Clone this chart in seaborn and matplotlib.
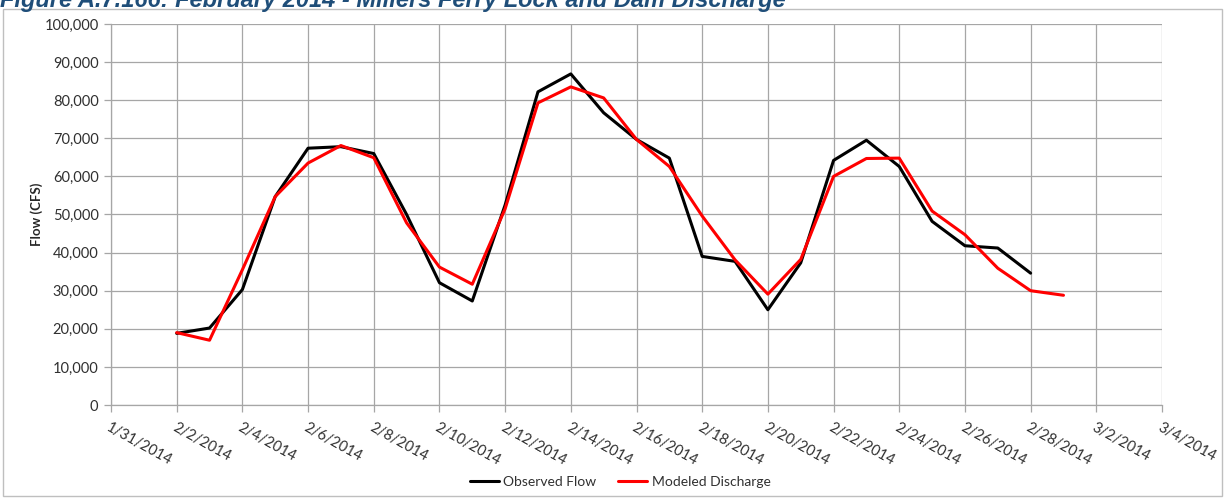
import matplotlib
matplotlib.use("Agg")
import matplotlib.pyplot as plt
from matplotlib.patches import Rectangle
from matplotlib.lines import Line2D
import seaborn as sns
import pandas as pd

# ---- data ----
obs_dates = pd.date_range("2014-02-02", "2014-02-28", freq="D")
observed_flow = [18800, 20200, 30300, 54700, 67400, 67800, 66000, 50000, 32100, 27300,
                 52500, 82200, 86900, 76700, 69700, 64800, 39000, 37700, 25000, 37300,
                 64200, 69500, 62600, 48200, 41800, 41200, 34600]
mod_dates = pd.date_range("2014-02-02", "2014-03-01", freq="D")
modeled_discharge = [19000, 17000, 35500, 54700, 63500, 68100, 64900, 47800, 36200, 31700,
                     51500, 79300, 83500, 80600, 69700, 62600, 49600, 38100, 29100, 38200,
                     60000, 64700, 64800, 50900, 44700, 35900, 30000, 28800]
series_names = ["Observed Flow", "Modeled Discharge"]
series_colors = ["#000000", "#FF0000"]
title_text = "Figure A.7.166: February 2014 - Millers Ferry Lock and Dam Discharge"
y_label = "Flow (CFS)"

df = pd.concat([
    pd.DataFrame({"date": obs_dates, "flow": observed_flow, "series": series_names[0]}),
    pd.DataFrame({"date": mod_dates, "flow": modeled_discharge, "series": series_names[1]}),
], ignore_index=True)

sns.set_theme(style="white")
plt.rcParams["font.family"] = ["Lato", "DejaVu Sans"]

W, H = 1225, 498
fig = plt.figure(figsize=(W / 100, H / 100), dpi=100)
L, R, T, B = 111, 1162, 24, 405
ax = fig.add_axes([L / W, 1 - B / H, (R - L) / W, (B - T) / H])

sns.lineplot(data=df, x="date", y="flow", hue="series", hue_order=series_names,
             palette=dict(zip(series_names, series_colors)), linewidth=2.2, ax=ax,
             legend=False)

start = pd.Timestamp("2014-01-31")
end = pd.Timestamp("2014-03-04")
ax.set_xlim(start, end)
ax.set_ylim(0, 100000)
ticks = pd.date_range(start, end, freq="2D")
ax.set_xticks(ticks)
ax.set_xticklabels([f"{d.month}/{d.day}/{d.year}" for d in ticks],
                   rotation=-29, ha="left", va="top", rotation_mode="anchor",
                   fontsize=10.5, color="#303030")
ax.set_yticks(range(0, 100001, 10000))
ax.set_yticklabels([f"{v:,}" for v in range(0, 100001, 10000)], fontsize=10.5, color="#303030")

gc = "#A6A6A6"
ax.grid(True, color=gc, linewidth=0.9)
ax.set_axisbelow(True)
for s in ["top", "right"]:
    ax.spines[s].set_visible(False)
for s in ["left", "bottom"]:
    ax.spines[s].set_color(gc)
    ax.spines[s].set_linewidth(0.9)
ax.tick_params(axis="both", which="major", length=5, width=0.9, color=gc,
               direction="out", bottom=True, left=True)
ax.tick_params(axis="y", pad=4)
ax.tick_params(axis="x", pad=6)
ax.set_xlabel("")
ax.set_ylabel(y_label, fontsize=9.5, fontweight="bold", color="#262626", labelpad=1)

# legend
handles = [Line2D([0], [0], color=c, lw=2.2) for c in series_colors]
fig.legend(handles, series_names, loc="center", bbox_to_anchor=(620 / W, 1 - 482 / H),
           ncol=2, frameon=False, fontsize=10, handlelength=2.1, handletextpad=0.3,
           columnspacing=1.6, labelcolor="#303030")

# chart area border
fig.patches.append(Rectangle((3 / W, 0.004), (1222 - 3) / W, 1 - 9 / H - 0.004,
                             transform=fig.transFigure, fill=False,
                             edgecolor="#BFBFBF", linewidth=1.0))

# title (partly cropped at the top, as in the reference)
fig.text(0, 1 - 7 / H, title_text, fontsize=17, fontweight="bold", fontstyle="italic",
         color="#1F4E79", ha="left", va="baseline",
         family=["Liberation Sans", "DejaVu Sans"])

fig.savefig("out.png", dpi=100)
